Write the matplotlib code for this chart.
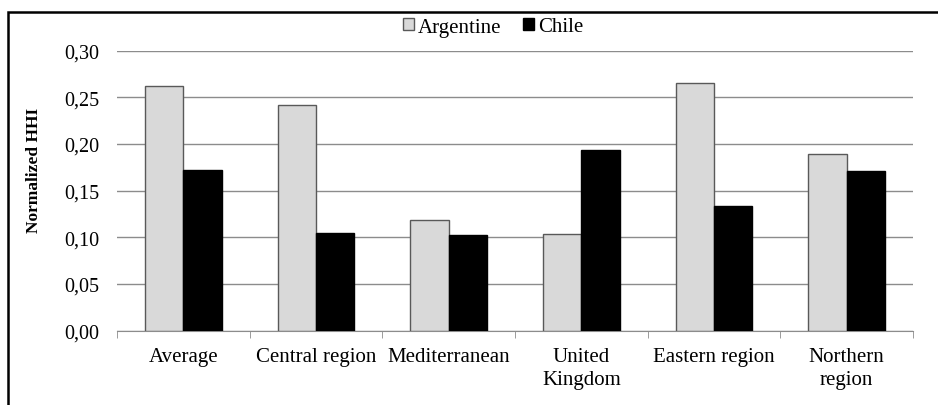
import matplotlib.pyplot as plt
from matplotlib.patches import Rectangle
import numpy as np

categories = ["Average", "Central region", "Mediterranean", "United\nKingdom",
              "Eastern region", "Northern\nregion"]
argentine = [0.262, 0.242, 0.119, 0.103, 0.265, 0.189]
chile = [0.172, 0.105, 0.102, 0.193, 0.133, 0.171]
yticks = [0.00, 0.05, 0.10, 0.15, 0.20, 0.25, 0.30]
ytick_labels = ["0,00", "0,05", "0,10", "0,15", "0,20", "0,25", "0,30"]

plt.rcParams["font.family"] = ["Liberation Serif", "DejaVu Serif"]

fig = plt.figure(figsize=(9.38, 4.06), dpi=100)
ax = fig.add_axes([117 / 938, 1 - 331.6 / 406, 796 / 938, 280 / 406])

x = np.arange(len(categories))
w = 0.289
ax.bar(x - w / 2, argentine, w, color="#d9d9d9", edgecolor="#595959",
       linewidth=1, label="Argentine", zorder=3)
ax.bar(x + w / 2, chile, w, color="black", edgecolor="black",
       linewidth=1, label="Chile", zorder=3)

ax.set_xlim(-0.5, len(categories) - 0.5)
ax.set_ylim(0, 0.30)
ax.set_yticks(yticks)
ax.set_yticklabels(ytick_labels, fontsize=14.5)
ax.tick_params(axis="y", length=0, pad=13)
ax.yaxis.grid(True, color="#8c8c8c", linewidth=1)
ax.set_axisbelow(True)

ax.set_xticks(x)
ax.set_xticklabels(categories, fontsize=15, linespacing=1.3)
ax.set_xticks(np.arange(-0.5, len(categories)), minor=True)
ax.tick_params(axis="x", which="major", length=0, pad=12)
ax.tick_params(axis="x", which="minor", length=5, color="#8c8c8c")

for s in ["top", "right", "left"]:
    ax.spines[s].set_visible(False)
ax.spines["bottom"].set_color("#8c8c8c")

ax.set_ylabel("Normalized HHI", fontsize=12.5, fontweight="bold")
ax.yaxis.set_label_coords(-0.094, 0.577)

fig.legend(loc="center", bbox_to_anchor=(493 / 938, 1 - 28 / 406), ncol=2,
           frameon=False, fontsize=15, handlelength=0.55, handleheight=0.55,
           handletextpad=0.2, columnspacing=1.0)

fig.patches.append(Rectangle((8 / 938, -0.1), 1.2, 1.1 - 13 / 406,
                             transform=fig.transFigure, fill=False,
                             edgecolor="black", linewidth=1.8))

fig.savefig("out.png", dpi=100)
